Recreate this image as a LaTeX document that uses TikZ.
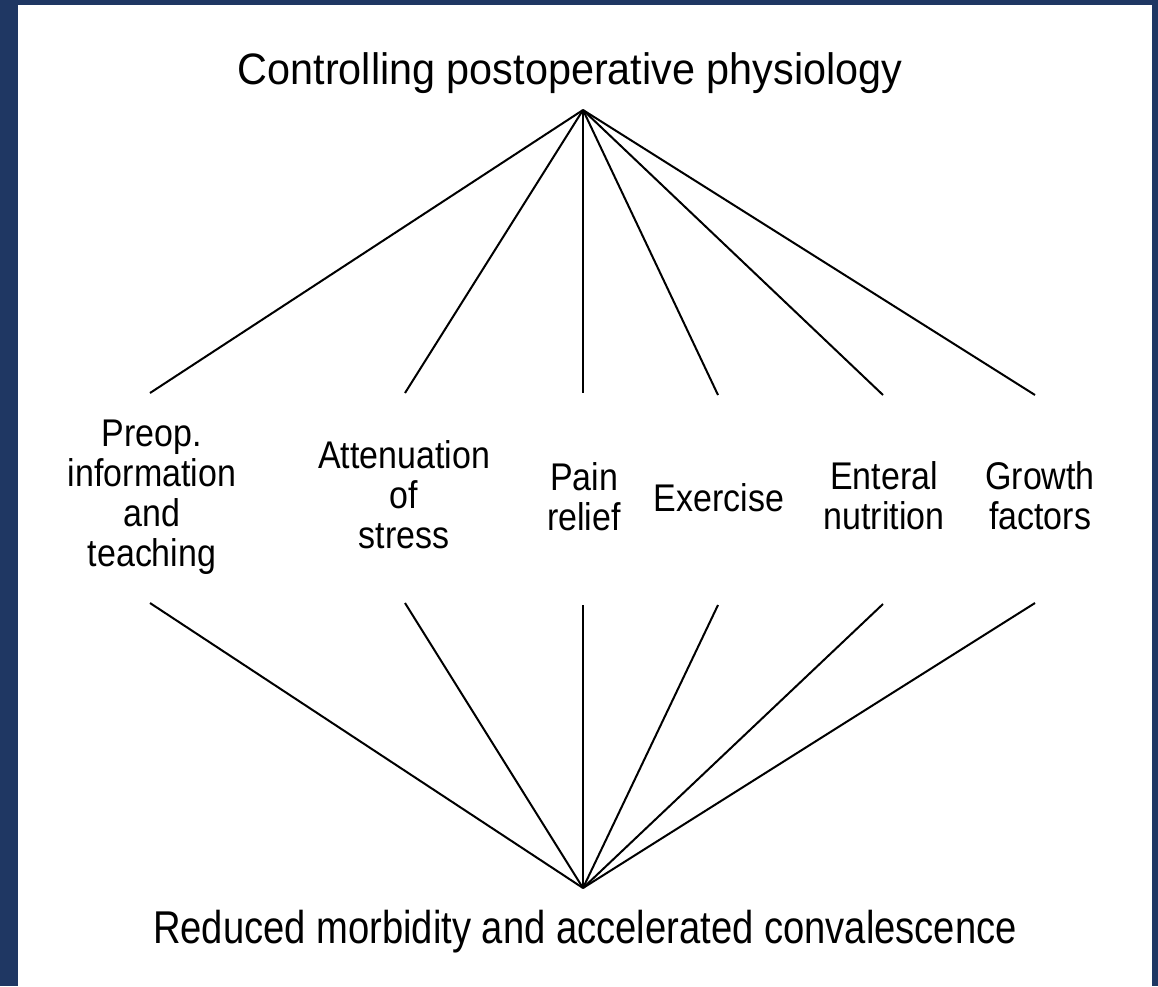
\documentclass[tikz,border=0pt]{standalone}
\usepackage{fontspec}
\setmainfont{Liberation Sans}
\newfontfamily\labfont[FakeStretch=0.88]{Liberation Sans}
\newfontfamily\titfont[FakeStretch=0.94]{Liberation Sans}
\newfontfamily\botfont[FakeStretch=0.83]{Liberation Sans}
\definecolor{framecol}{RGB}{31,55,99}
\begin{document}
\begin{tikzpicture}[x=1pt,y=-1pt,
  lab/.style={font=\labfont\fontsize{38.6}{40}\selectfont, align=center, inner sep=0pt, anchor=north},
  heading/.style={inner sep=0pt, anchor=base},
  conn/.style={line width=2pt, black}]
\useasboundingbox (0,0) rectangle (1158,986);
\fill[framecol] (0,0) rectangle (1158,986);
\fill[white] (18,5) rectangle (1152,986);
% headings
\node[heading, font=\titfont\fontsize{44}{48}\selectfont] (title) at (570,84) {Controlling postoperative physiology};
\node[heading, font=\botfont\fontsize{46}{50}\selectfont] (result) at (585,943) {Reduced morbidity and accelerated convalescence};
% apexes
\coordinate (top) at (583,110);
\coordinate (bot) at (583,888);
% labels
\node[lab] (preop) at (152,420) {Preop.\\information\\and\\teaching};
\node[lab] (atten) at (404,440) {Attenuation\\of\\stress};
\node[lab] (pain) at (584,462) {Pain\\relief};
\node[lab] (exer) at (719,483) {Exercise};
\node[lab] (enter) at (884,461) {Enteral\\nutrition};
\node[lab] (growth) at (1040,461) {Growth\\factors};
% line ends
\coordinate (t1) at (150,393);
\coordinate (t2) at (405,393);
\coordinate (t3) at (583,393);
\coordinate (t4) at (718,395);
\coordinate (t5) at (883,395);
\coordinate (t6) at (1035,395);
\coordinate (b1) at (150,603);
\coordinate (b2) at (405,603);
\coordinate (b3) at (583,605);
\coordinate (b4) at (718,605);
\coordinate (b5) at (883,604);
\coordinate (b6) at (1035,603);
\foreach \i in {1,...,6} {
  \draw[conn] (top) -- (t\i);
  \draw[conn] (b\i) -- (bot);
}
\end{tikzpicture}
\end{document}
